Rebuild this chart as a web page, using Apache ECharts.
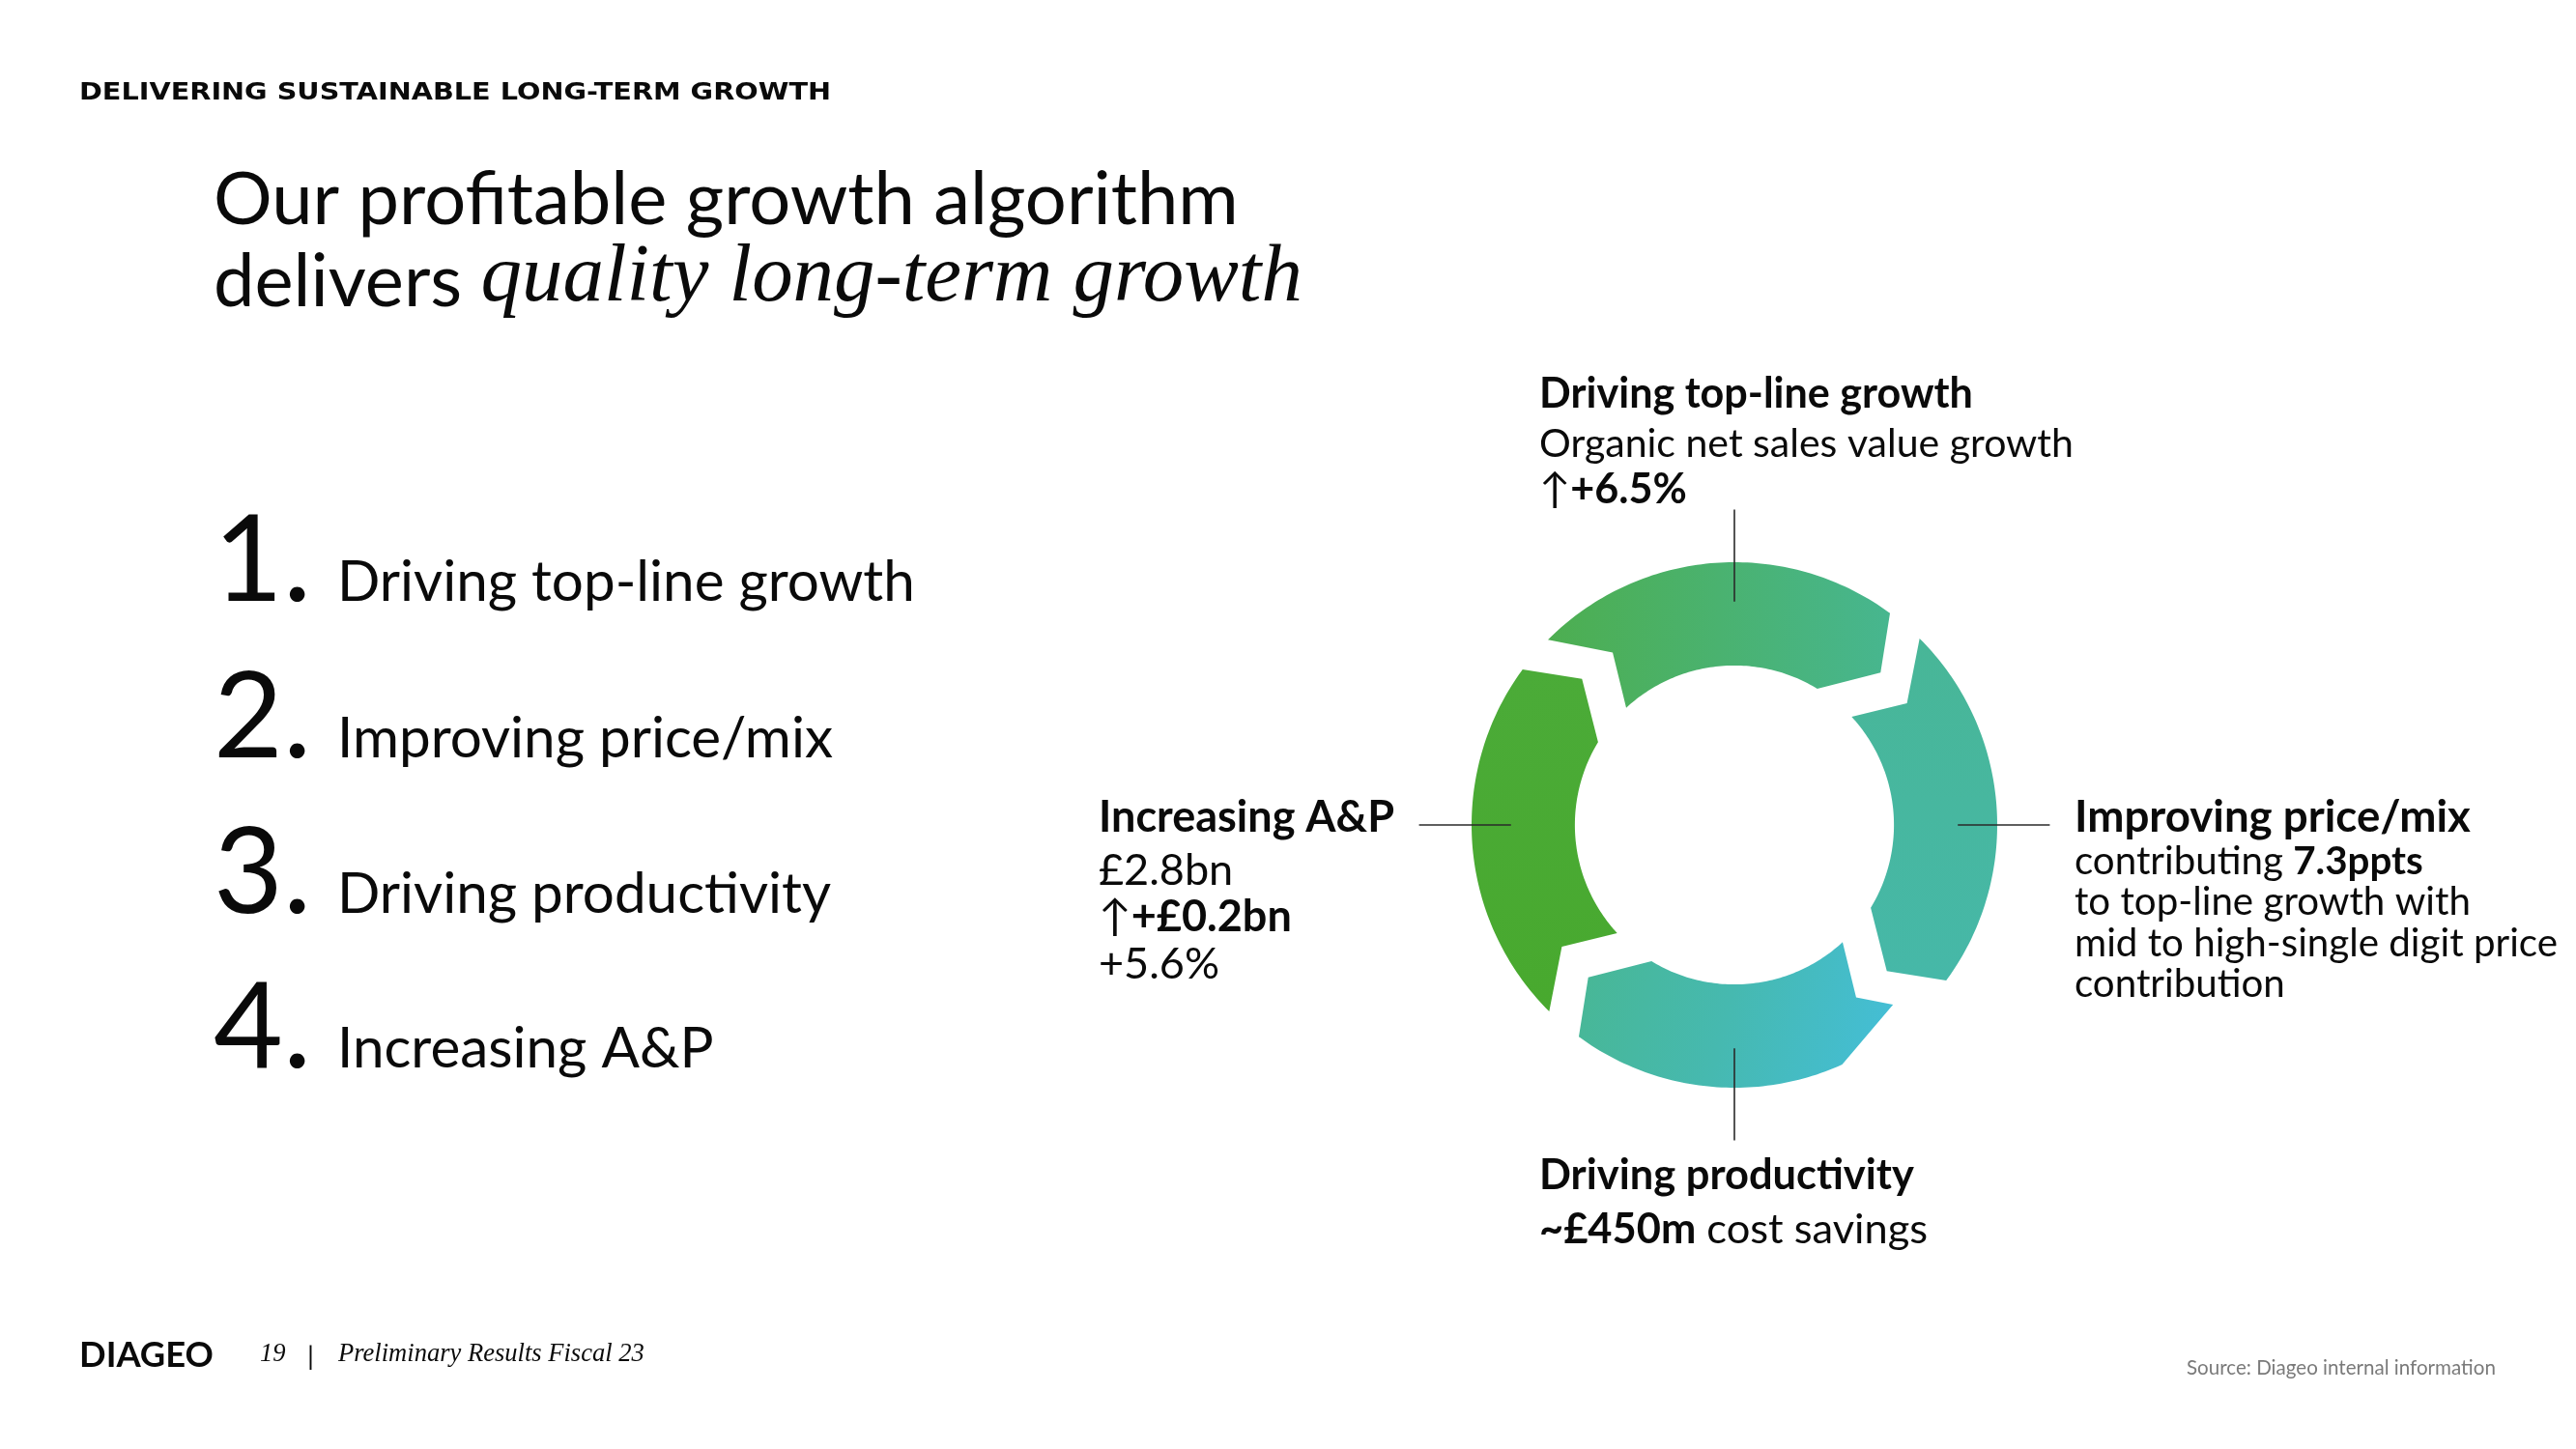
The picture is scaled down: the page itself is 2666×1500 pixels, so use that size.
<!DOCTYPE html>
<html>
<head>
<meta charset="utf-8">
<script src="https://cdn.jsdelivr.net/npm/echarts@6/dist/echarts.min.js"></script>
<style>
html,body{margin:0;padding:0;background:#ffffff;}
#chart{width:2666px;height:1500px;}
</style>
</head>
<body>
<div id="chart"></div>
<script>
// ---------------- data ----------------
const segmentLabels = ['Driving top-line growth', 'Improving price/mix', 'Driving productivity', 'Increasing A&P'];
const segmentShares = [1, 1, 1, 1];            // four equal stages of the cycle
const leaderAngles = [90, 0, 270, 180];         // callout directions (deg)
const listNumbers = ['1.', '2.', '3.', '4.'];
const listItems = ['Driving top-line growth', 'Improving price/mix', 'Driving productivity', 'Increasing A&P'];
const topLineGrowth = '+6.5%';
const priceMixPpts = '7.3ppts';
const apSpend = '£2.8bn';
const apIncrease = '+£0.2bn';
const apGrowth = '+5.6%';
const costSavings = '~£450m';

// ---------------- styles ----------------
const FONTS = {
  reg:     {style: 'normal', weight: 400, family: 'Lato', k: 0.32},
  bold:    {style: 'normal', weight: 700, family: 'Lato', k: 0.32},
  light:   {style: 'normal', weight: 300, family: 'Lato', k: 0.32},
  hdr:     {style: 'normal', weight: 700, family: '"DejaVu Sans"', k: 0.346},
  serifIt: {style: 'italic', weight: 400, family: '"Liberation Serif"', k: 0.3375}
};
const INK = '#0a0a0a';
const SEG_FILLS = [
  {type: 'linear', x: 0, y: 0, x2: 1, y2: 0, colorStops: [{offset: 0, color: '#4dae50'}, {offset: 1, color: '#47b68f'}]},
  {type: 'linear', x: 0, y: 0, x2: 0, y2: 1, colorStops: [{offset: 0, color: '#48b697'}, {offset: 1, color: '#46b8a8'}]},
  {type: 'linear', x: 0, y: 0, x2: 1, y2: 0.6, colorStops: [{offset: 0, color: '#48b794'}, {offset: 0.5, color: '#46b9b0'}, {offset: 1, color: '#44bed6'}]},
  {type: 'linear', x: 0, y: 0, x2: 0, y2: 1, colorStops: [{offset: 0, color: '#4bab38'}, {offset: 1, color: '#48a92e'}]}
];
const START_ANGLE = 135.2, GAP = 8.5;
const R_OUT = 1, R_IN = 0.607, R_MID = 0.8035;
const D2R = Math.PI / 180;

// ---------------- text helpers ----------------
const mctx = document.createElement('canvas').getContext('2d');
function fontStr(f, s) { return f.style + ' ' + f.weight + ' ' + s.toFixed(2) + 'px ' + f.family; }
function runW(r, s) { mctx.font = fontStr(FONTS[r.f], s); return mctx.measureText(r.t).width; }
function fit(runs, target) { const w = runs.reduce((a, r) => a + runW(r, 100), 0); return 100 * target / w; }
const elems = [];
function line(x, baseline, runs, size, color) {
  let cx = x;
  runs.forEach(r => {
    const f = FONTS[r.f];
    const s = r.s || size;
    const el = {
      type: 'text', x: cx, y: baseline - f.k * s, silent: true, z: 10,
      style: {text: r.t, font: fontStr(f, s), fill: r.c || color || INK, textAlign: 'left', textVerticalAlign: 'middle', align: 'left', verticalAlign: 'middle'}
    };
    if (r.sx) el.scaleX = r.sx;
    elems.push(el);
    cx += runW(r, s) * (r.sx || 1);
  });
}

// header (tracked caps approximated by horizontal stretch)
const HEADER = 'DELIVERING SUSTAINABLE LONG-TERM GROWTH';
const headerSize = 25;
const headerSX = 778 / runW({t: HEADER, f: 'hdr'}, headerSize);
line(82, 105, [{t: HEADER, f: 'hdr', sx: headerSX}], headerSize);

// title
const titleSize = fit([{t: 'Our profitable growth algorithm', f: 'reg'}], 1061);
line(221, 232, [{t: 'Our profitable growth algorithm', f: 'reg'}], titleSize);
const delW = runW({t: 'delivers ', f: 'reg'}, titleSize);
const itSize = fit([{t: 'quality long-term growth', f: 'serifIt'}], 1127 - delW);
line(221, 317, [{t: 'delivers ', f: 'reg'}, {t: 'quality long-term growth', f: 'serifIt', s: itSize}], titleSize);

// numbered list
const listBase = [622, 784, 945, 1105];
const numSize = 124;
const itemSize = fit([{t: listItems[0], f: 'reg'}], 598);
listNumbers.forEach((n, i) => {
  line(221, listBase[i], [{t: n, f: 'reg'}], numSize);
  line(349, listBase[i], [{t: listItems[i], f: 'reg'}], itemSize);
});

// callout: top
const topB = fit([{t: segmentLabels[0], f: 'bold'}], 449);
const topR = fit([{t: 'Organic net sales value growth', f: 'reg'}], 553);
line(1593, 422, [{t: segmentLabels[0], f: 'bold'}], topB);
line(1593, 473, [{t: 'Organic net sales value growth', f: 'reg'}], topR);
line(1593, 521, [{t: '↑', f: 'reg'}, {t: topLineGrowth, f: 'bold'}], topB);

// callout: left
const apB = fit([{t: segmentLabels[3], f: 'bold'}], 306);
line(1137, 861, [{t: segmentLabels[3], f: 'bold'}], apB);
line(1137, 916, [{t: apSpend, f: 'reg'}], apB);
line(1137, 964, [{t: '↑', f: 'reg'}, {t: apIncrease, f: 'bold'}], apB);
line(1137, 1013, [{t: apGrowth, f: 'reg'}], apB);

// callout: right
const pmB = fit([{t: segmentLabels[1], f: 'bold'}], 410);
const pmR = fit([{t: 'mid to high-single digit price', f: 'reg'}], 500);
line(2147, 861, [{t: segmentLabels[1], f: 'bold'}], pmB);
line(2147, 905, [{t: 'contributing ', f: 'reg'}, {t: priceMixPpts, f: 'bold'}], pmR);
line(2147, 947, [{t: 'to top-line growth with', f: 'reg'}], pmR);
line(2147, 990, [{t: 'mid to high-single digit price', f: 'reg'}], pmR);
line(2147, 1032, [{t: 'contribution', f: 'reg'}], pmR);

// callout: bottom
const prB = fit([{t: segmentLabels[2], f: 'bold'}], 388);
line(1593, 1231, [{t: segmentLabels[2], f: 'bold'}], prB);
line(1593, 1287, [{t: costSavings, f: 'bold'}, {t: ' cost savings', f: 'reg'}], prB);

// footer
const logoSize = fit([{t: 'DIAGEO', f: 'bold'}], 139);
line(82, 1415, [{t: 'DIAGEO', f: 'bold'}], logoSize);
const footSize = fit([{t: 'Preliminary Results Fiscal 23', f: 'serifIt'}], 317);
line(269, 1411, [{t: '19', f: 'serifIt'}], footSize);
line(318, 1413, [{t: '|', f: 'reg'}], footSize * 1.05);
line(350, 1411, [{t: 'Preliminary Results Fiscal 23', f: 'serifIt'}], footSize);
const srcSize = fit([{t: 'Source: Diageo internal information', f: 'reg'}], 320);
line(2263, 1423, [{t: 'Source: Diageo internal information', f: 'reg'}], srcSize, '#7a7a7a');

// ---------------- ring ----------------
const totalShare = segmentShares.reduce((a, b) => a + b, 0);
function renderSegment(params, api) {
  const i = params.dataIndex;
  let before = 0;
  for (let j = 0; j < i; j++) before += segmentShares[j];
  const share = api.value(1);
  const T = START_ANGLE - 360 * before / totalShare;
  const H = T - 360 * share / totalShare + GAP;
  const P = (a, r) => api.coord([r * Math.cos(a * D2R), r * Math.sin(a * D2R)]);
  const clipped = (i === 2);
  const pts = [];
  const tOut = clipped ? T - 21 : T;
  for (let a = tOut; a > H; a -= 1) pts.push(P(a, R_OUT));
  pts.push(P(H, R_OUT));
  pts.push(P(H - 7.5, R_MID));
  for (let a = H + 5; a < T - 2.5; a += 1) pts.push(P(a, R_IN));
  pts.push(P(T - 2.5, R_IN));
  const mid = P(T - 10, R_MID);
  pts.push(mid);
  if (clipped) {
    const o = P(T, R_OUT);
    pts.push([mid[0] + 0.57 * (o[0] - mid[0]), mid[1] + 0.57 * (o[1] - mid[1])]);
  }
  return {type: 'polygon', shape: {points: pts}, style: {fill: SEG_FILLS[i]}};
}
function renderLeader(params, api) {
  const a = api.value(0);
  const p1 = api.coord([0.85 * Math.cos(a * D2R), 0.85 * Math.sin(a * D2R)]);
  const p2 = api.coord([1.20 * Math.cos(a * D2R), 1.20 * Math.sin(a * D2R)]);
  return {type: 'line', shape: {x1: p1[0], y1: p1[1], x2: p2[0], y2: p2[1]}, style: {stroke: '#2a2a2a', lineWidth: 1.6}};
}

const chart = echarts.init(document.getElementById('chart'), null, {renderer: 'canvas'});
chart.setOption({
  animation: false,
  backgroundColor: '#ffffff',
  grid: {left: 1455, top: 514, width: 680, height: 680},
  xAxis: {type: 'value', min: -1.25, max: 1.25, show: false},
  yAxis: {type: 'value', min: -1.25, max: 1.25, show: false},
  series: [
    {type: 'custom', name: 'cycle', renderItem: renderSegment, data: segmentShares.map((v, i) => [i, v]), z: 2, silent: true},
    {type: 'custom', name: 'leaders', renderItem: renderLeader, data: leaderAngles.map(a => [a]), z: 3, silent: true}
  ],
  graphic: {elements: elems}
});
</script>
</body>
</html>
